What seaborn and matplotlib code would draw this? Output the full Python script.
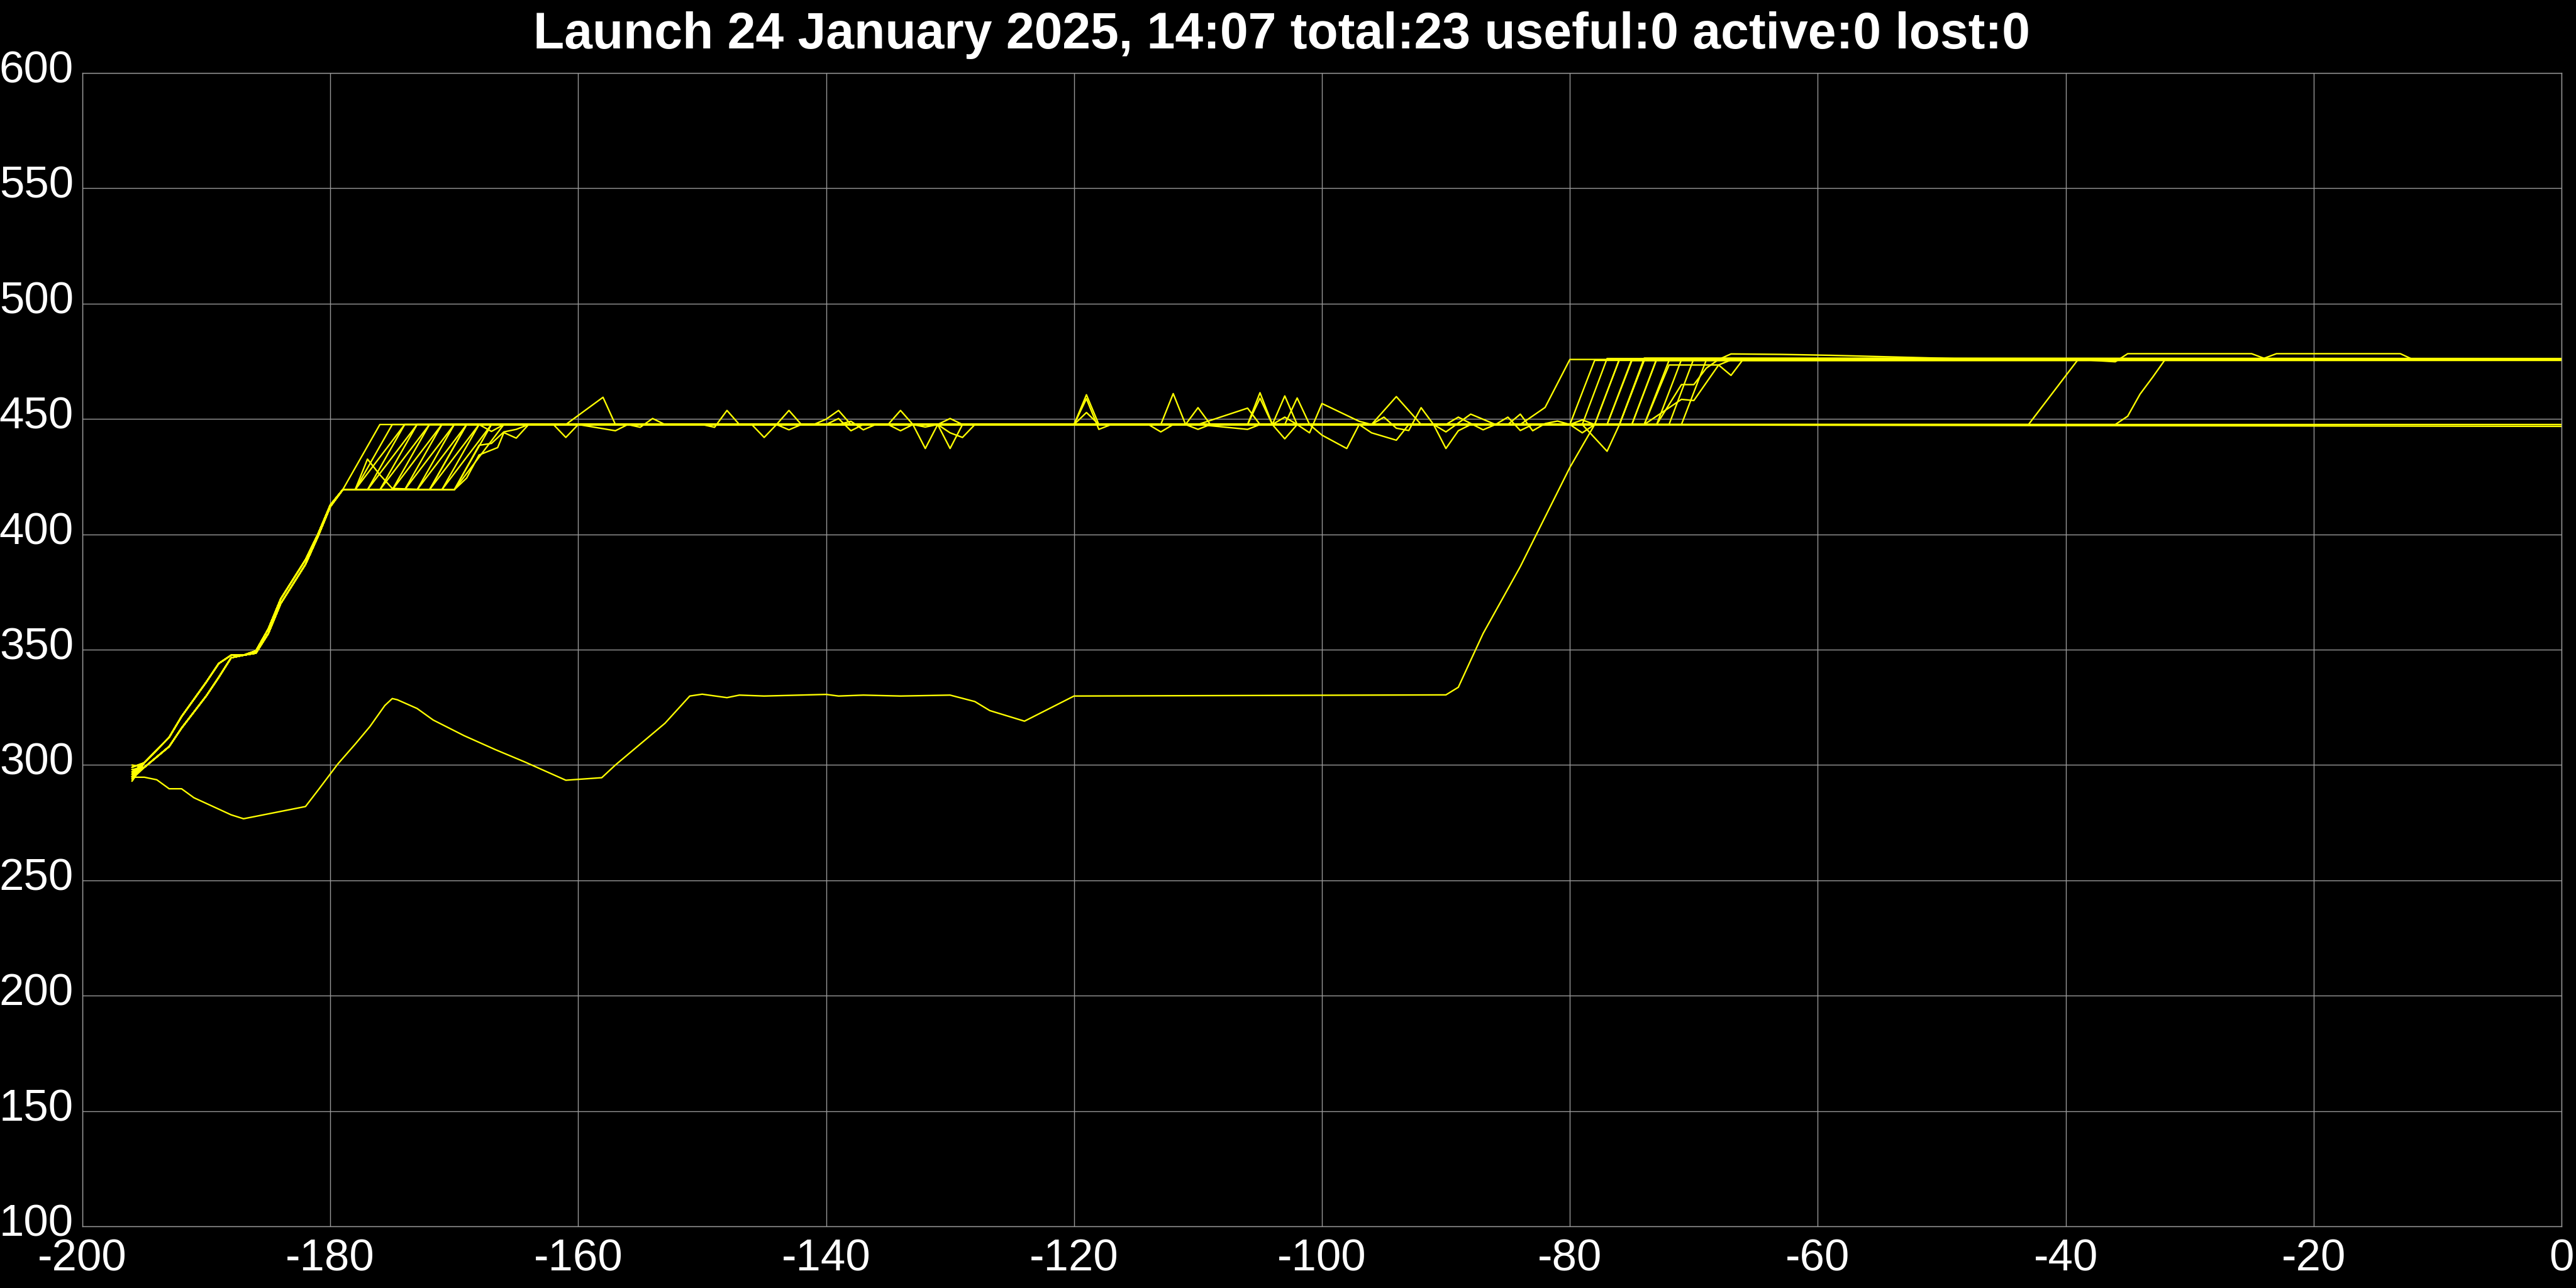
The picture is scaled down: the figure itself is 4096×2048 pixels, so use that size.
import matplotlib
matplotlib.use("Agg")
import matplotlib.pyplot as plt
import matplotlib.transforms as mtransforms
import numpy as np
import pandas as pd
import seaborn as sns

# ---------------- data ----------------
TITLE = "Launch 24 January 2025, 14:07 total:23 useful:0 active:0 lost:0"

# shared ascent of the 22 upper tracks (two slightly different bundle edges)
ascent_t = [-195, -193, -192, -190, -189, -188, -187, -186, -185, -184, -182, -181, -180, -179]
ascent_a = [301, 312, 321, 336, 344, 347.6, 347.6, 349.5, 359, 372, 389, 400, 412.7, 419.3]
ascent_b = [299, 308, 316, 330, 338, 346.5, 347.6, 348.5, 357, 370, 387, 399, 412.0, 419.3]

plateau_low = 419.3
plateau_mid = 447.6

# per upper track: starting value, which ascent edge, time leaving 420,
# time reaching 447, time leaving 447, time reaching 475, top level, final value
start_v   = [299, 297, 296, 295, 294, 300, 293, 298, 296, 295, 297,
             294, 299, 296, 295, 298, 293, 297, 296, 294, 299, 295]
ascent_id = [0, 1, 0, 1, 0, 1, 0, 1, 0, 1, 0, 1, 0, 1, 0, 1, 0, 1, 0, 1, 0, 1]
exit420_t = [-179, -178, -178, -177, -177, -176, -176, -175, -175, -174, -174,
             -173, -173, -172, -172, -171, -171, -170, -170, -170, -170, -172]
reach447_t = [-176, -175, -174, -174, -173, -173, -172, -172, -171, -171, -170,
              -170, -169, -169, -168, -168, -167, -167, -166, -164, -164, -169]
leave447_t = [-84, -80, -79, -79, -78, -77, -77, -76, -76, -75, -75,
              -74, -73, -74, -73, -74, None, None, -43, -36, -72, -71]
reach475_t = [-80, -78, -77, -74, -76, -75, -75, -74, -74, -73, -73,
              -72, -71, -66, -68, -67, None, None, -39, -32, -70, -69]
top_v = [475.8, 475.4, 476.2, 475.6, 476.0, 475.3, 475.9, 476.4, 475.5, 475.8, 476.1,
         475.4, 475.7, 476.0, 475.8, 475.6, None, None, 475.8, 475.6, 476.2, 475.5]
end_v = [475.8, 475.5, 476.0, 475.6, 475.9, 475.4, 475.8, 476.2, 475.5, 475.8, 476.0,
         475.5, 475.7, 475.9, 475.8, 475.6, 447.6, 446.8, 475.8, 475.6, 476.0, 475.6]

# extra points of the upper tracks: (track, time, value)
bumps = [
    # intermediate shapes on the 420 -> 447 climb
    (21, -178, 419.3), (21, -177, 432.6), (21, -176, 425.8), (21, -175, 419.9),
    (19, -169, 424.4), (19, -168, 434.4), (19, -166.5, 437.6), (19, -166, 444.1), (19, -165, 441.7),
    (20, -168, 438.6), (20, -167, 439.4), (20, -166, 444.4), (20, -165, 445.5),
    (15, -167, 444.6), (15, -166, 447.6),
    # spikes on the 447 plateau
    (0, -162, 447.6), (0, -161, 442.0), (0, -160, 447.6),
    (1, -161, 447.6), (1, -158, 459.4), (1, -157, 447.6),
    (2, -160, 447.6), (2, -157, 444.9), (2, -156, 447.6),
    (3, -156, 447.6), (3, -155, 446.4), (3, -154, 450.2), (3, -153, 447.6),
    (4, -150, 447.6), (4, -149, 446.4), (4, -148, 453.7), (4, -147, 447.6),
    (5, -146, 447.6), (5, -145, 442.0), (5, -144, 447.6),
    (6, -144, 447.6), (6, -143, 453.7), (6, -142, 447.6),
    (7, -144, 447.6), (7, -143, 445.3), (7, -142, 447.6),
    (8, -141, 447.6), (8, -140, 449.9), (8, -139, 453.7), (8, -138, 447.6),
    (9, -140, 447.6), (9, -139, 450.2), (9, -138, 444.9), (9, -137, 447.6),
    (10, -139, 447.6), (10, -138, 449.0), (10, -137, 445.3), (10, -136, 447.6),
    (11, -135, 447.6), (11, -134, 453.7), (11, -133, 447.6),
    (12, -135, 447.6), (12, -134, 444.9), (12, -133, 447.6),
    (13, -133, 447.6), (13, -132, 437.2), (13, -131, 447.6),
    (14, -131, 447.6), (14, -130, 437.2), (14, -129, 447.6),
    (15, -131, 447.6), (15, -130, 450.2), (15, -129, 447.6),
    (16, -131, 447.6), (16, -130, 444.0), (16, -129, 442.0), (16, -128, 447.6),
    (17, -133, 447.6), (17, -132, 446.5), (17, -131, 447.6),
    (18, -120, 447.6), (18, -119, 460.5), (18, -118, 447.6),
    (19, -120, 447.6), (19, -119, 458.8), (19, -118, 445.5), (19, -117, 447.6),
    (20, -120, 447.6), (20, -119, 452.8), (20, -118, 447.6),
    (21, -114, 447.6), (21, -113, 444.4), (21, -112, 447.6),
    (0, -113, 447.6), (0, -112, 461.0), (0, -111, 447.6),
    (1, -111, 447.6), (1, -110, 454.9), (1, -109, 447.6),
    (2, -111, 447.6), (2, -110, 445.5), (2, -109, 447.6),
    (3, -110, 447.6), (3, -106, 454.7), (3, -105, 447.6),
    (4, -110, 447.6), (4, -106, 445.5), (4, -105, 447.6),
    (5, -106, 447.6), (5, -105, 461.4), (5, -104, 447.6),
    (6, -106, 447.6), (6, -105, 459.0), (6, -104, 447.6),
    (7, -104, 447.6), (7, -103, 460.0), (7, -102, 447.6),
    (8, -104, 447.6), (8, -103, 450.8), (8, -102, 447.6),
    (9, -104, 447.6), (9, -103, 441.4), (9, -102, 447.6),
    (10, -103, 447.6), (10, -102, 459.1), (10, -101, 447.6),
    (11, -102, 447.6), (11, -101, 444.0), (11, -100, 456.7), (11, -97, 449.0), (11, -96, 447.6),
    (12, -101, 447.6), (12, -100, 443.0), (12, -98, 437.2), (12, -97, 447.6),
    (13, -96, 447.6), (13, -94, 459.7), (13, -92, 447.6),
    (14, -97, 447.6), (14, -96, 444.0), (14, -94, 440.8), (14, -93, 447.6),
    (15, -96, 447.6), (15, -95, 450.8), (15, -94, 446.0), (15, -93, 445.0), (15, -92, 454.9), (15, -91, 447.6),
    (16, -91, 447.6), (16, -90, 437.2), (16, -89, 444.9), (16, -88, 447.6),
    (17, -91, 447.6), (17, -90, 444.4), (17, -88, 452.1), (17, -86, 447.6),
    (18, -90, 447.6), (18, -89, 450.8), (18, -87, 445.3), (18, -86, 447.6),
    (19, -86, 447.6), (19, -85, 450.8), (19, -84, 445.0), (19, -83, 447.6),
    (20, -85, 447.6), (20, -84, 452.1), (20, -83, 444.9), (20, -82, 448.0), (20, -81, 449.1), (20, -80, 447.6),
    (21, -80, 447.6), (21, -79, 444.0), (21, -78, 447.6),
    (12, -80, 447.6), (12, -79, 449.6), (12, -78, 447.6),
    # shapes on the 447 -> 475 climb and afterwards
    (0, -82, 455.0),
    (3, -77, 436.0), (3, -76, 447.6),
    (13, -71, 458.5), (13, -70, 458.0), (13, -68, 473.4), (13, -67, 468.9),
    (14, -71, 464.9), (14, -70, 464.9), (14, -69, 472.0), (14, -67, 478.2),
    (14, -63, 478.0), (14, -59, 477.6), (14, -49, 476.2),
    (15, -72, 473.4), (15, -68, 473.4),
    (17, -60, 447.3),
    (18, -36, 474.8), (18, -35, 478.3), (18, -25, 478.3), (18, -24, 476.3),
    (18, -23, 478.3), (18, -13, 478.3), (18, -12, 475.8),
    (19, -35, 451.2), (19, -34, 460.8), (19, -33, 468.0),
]

# the lower track
low_t = [-196, -195, -194, -193, -192, -191, -188, -187, -182, -181, -179.4, -178,
         -176.8, -175.6, -175, -174.6, -173, -171.7, -169.2, -166.7, -164.3, -161,
         -158.1, -157, -153, -151, -150, -148, -147, -145, -140, -139, -137, -134,
         -130, -128, -126.8, -124, -120, -90, -89, -88, -87, -84, -80, -78, -76, 0]
low_v = [294.7, 294.7, 293.6, 289.7, 289.7, 285.8, 278.4, 276.7, 282.0, 289.0, 300.4, 309.0,
         316.7, 325.8, 328.8, 328.3, 324.5, 319.5, 312.7, 306.7, 301.3, 293.4,
         294.5, 300.0, 318.1, 329.9, 330.7, 329.2, 330.3, 329.9, 330.6, 329.9, 330.3, 329.9,
         330.3, 327.5, 323.6, 319.0, 329.9, 330.4, 333.7, 345.4, 357.0, 386.0, 429.0, 447.6, 475.8, 475.8]

x_ticks = list(range(-200, 1, 20))
y_ticks = list(range(100, 601, 50))

# ---------------- assemble long table ----------------
rows = []
for i in range(len(start_v)):
    pts = {-196.0: start_v[i]}
    asc = ascent_a if ascent_id[i] == 0 else ascent_b
    for t, v in zip(ascent_t, asc):
        pts[float(t)] = v
    pts[float(exit420_t[i])] = plateau_low
    pts[float(reach447_t[i])] = plateau_mid
    if leave447_t[i] is not None:
        pts[float(leave447_t[i])] = plateau_mid
        pts[float(reach475_t[i])] = top_v[i]
    for (k, t, v) in bumps:
        if k == i:
            pts[float(t)] = v
    pts[0.0] = end_v[i]
    for t in sorted(pts):
        rows.append((i, t, pts[t]))
for t, v in zip(low_t, low_v):
    rows.append((22, float(t), v))
df = pd.DataFrame(rows, columns=["track", "t", "v"])

# ---------------- style ----------------
sns.set_theme(style="dark")
plt.rcParams["font.family"] = ["Liberation Sans", "DejaVu Sans"]
plt.rcParams["axes.unicode_minus"] = False

W, H = 4096, 2048
fig = plt.figure(figsize=(W / 100, H / 100), dpi=100, facecolor="black")
L, R, B, T = 131, 4073, 1950, 116
ax = fig.add_axes([L / W, 1 - B / H, (R - L) / W, (B - T) / H])
ax.set_facecolor("black")

grid_c = "#9a9a9a"
sns.lineplot(data=df, x="t", y="v", units="track", estimator=None,
             color="#ffff00", linewidth=1.7, ax=ax, legend=False)

ax.set_xlim(-200, 0)
ax.set_ylim(100, 600)
ax.set_xticks(x_ticks)
ax.set_yticks(y_ticks)
ax.set_xticklabels([str(v) for v in x_ticks])
ax.set_yticklabels([str(v) for v in y_ticks])
ax.set_xlabel("")
ax.set_ylabel("")
ax.grid(True, color=grid_c, linewidth=1.0)
ax.set_axisbelow(True)
for s in ax.spines.values():
    s.set_color(grid_c)
    s.set_linewidth(1.0)
ax.tick_params(axis="both", colors=grid_c, length=5.8, width=1.0,
               labelcolor="white", labelsize=51)
ax.tick_params(axis="x", pad=8)
ax.tick_params(axis="y", pad=4.3)
offset = mtransforms.ScaledTranslation(0, 10 / 100, fig.dpi_scale_trans)
for lab in ax.get_yticklabels():
    lab.set_transform(lab.get_transform() + offset)

fig.text(0.4975, 1 - 77 / H, TITLE, ha="center", va="baseline",
         color="white", fontsize=58, fontweight="bold")

fig.savefig("out.png", dpi=100, facecolor="black")
